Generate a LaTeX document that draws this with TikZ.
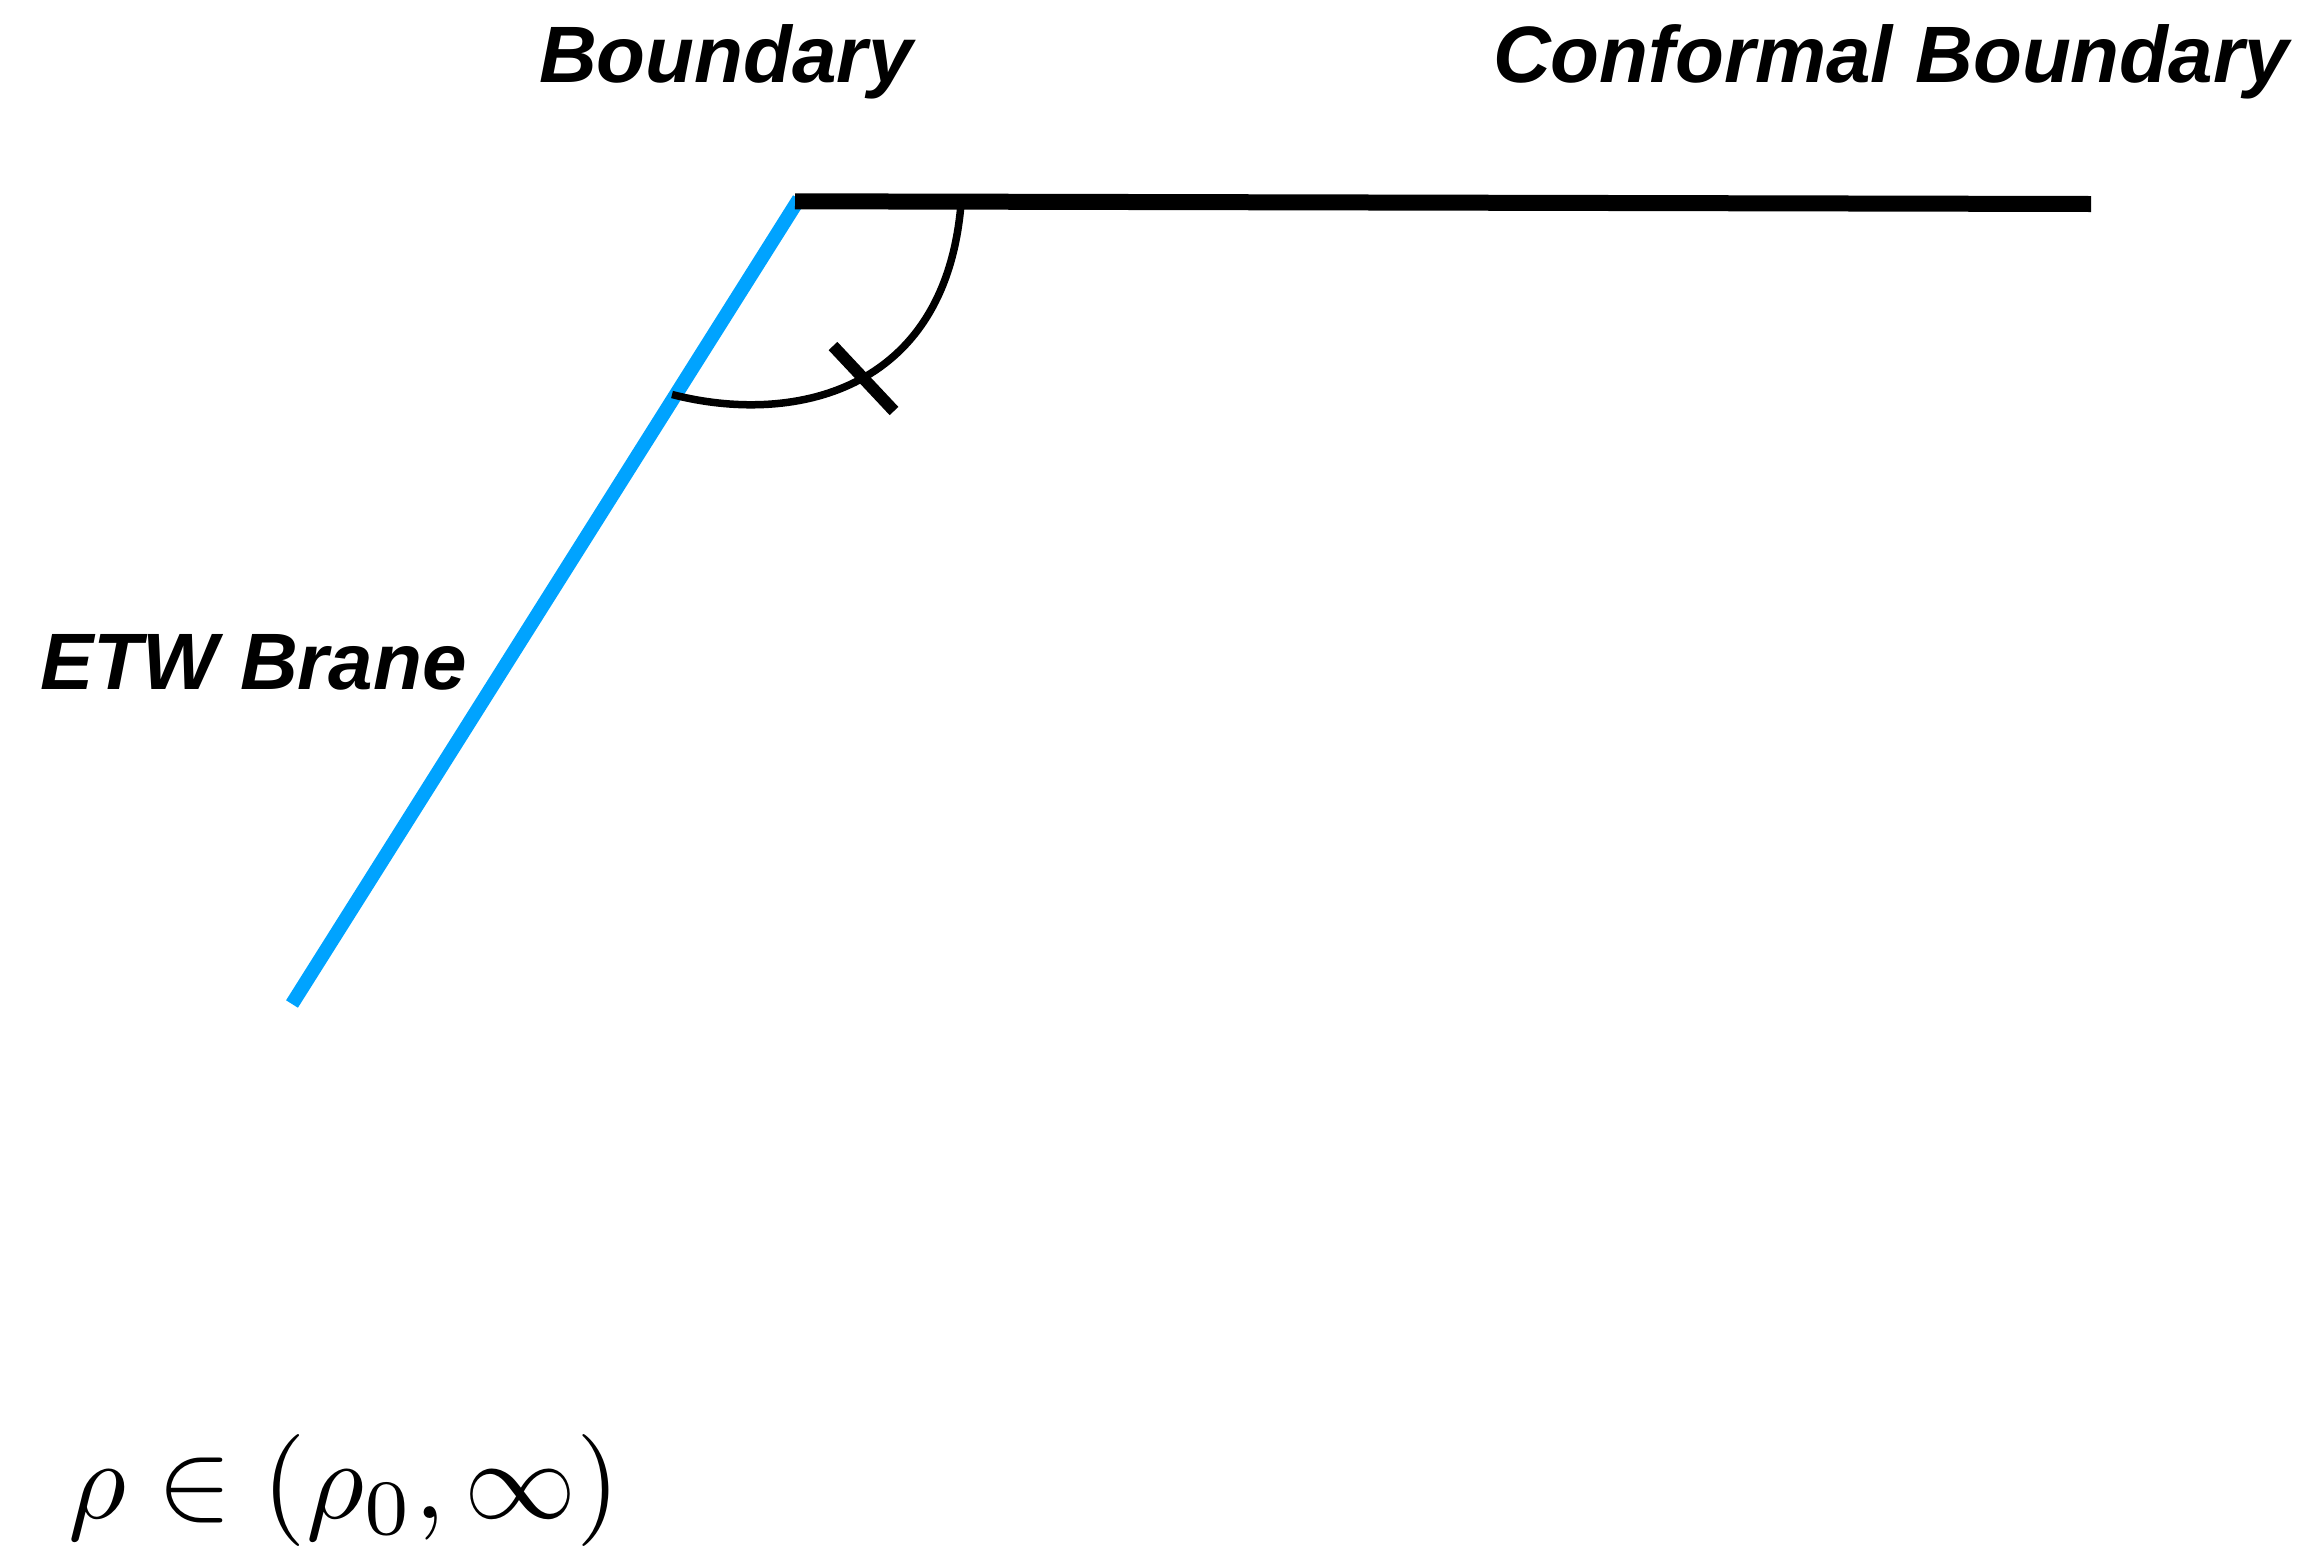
\documentclass[tikz,border=0pt]{standalone}
\usepackage{fontspec}
\newfontfamily\labfont{Liberation Sans}
\definecolor{braneblue}{RGB}{0,163,255}
\begin{document}
\begin{tikzpicture}[x=1pt,y=-1pt,
  lab/.style={font=\labfont\fontsize{80}{92}\selectfont\bfseries\itshape,anchor=base west,inner sep=0pt},
  bdry/.style={line width=16pt,black},
  brane/.style={line width=14pt,braneblue},
  anglearc/.style={line width=7.5pt,black},
  tick/.style={line width=12pt,black}]
\useasboundingbox (0,0) rectangle (2300,1548);
% coordinates
\coordinate (bl) at (795,201.3);
\coordinate (br) at (2091,204);
\coordinate (btop) at (799,199);
\coordinate (bbot) at (292,1004);
\coordinate (a1) at (672,394.5);
\coordinate (a2) at (961,204);
\coordinate (t1) at (833,346);
\coordinate (t2) at (894,411);
% lines
\draw[brane] (btop) -- (bbot);
\draw[bdry] (bl) -- (br);
\draw[anglearc] (a1) .. controls (790,425) and (945,395) .. (a2);
\draw[tick] (t1) -- (t2);
% labels
\node[lab] (boundary) at (539,82) {Boundary};
\node[lab] (conformal) at (1493,82) {Conformal Boundary};
\node[lab] (etw) at (40,689) {ETW Brane};
\node[anchor=base west,inner sep=0pt] (rho) at (68,1518) {\scalebox{11.2}{$\rho\in(\rho_0,\infty)$}};
\end{tikzpicture}
\end{document}
